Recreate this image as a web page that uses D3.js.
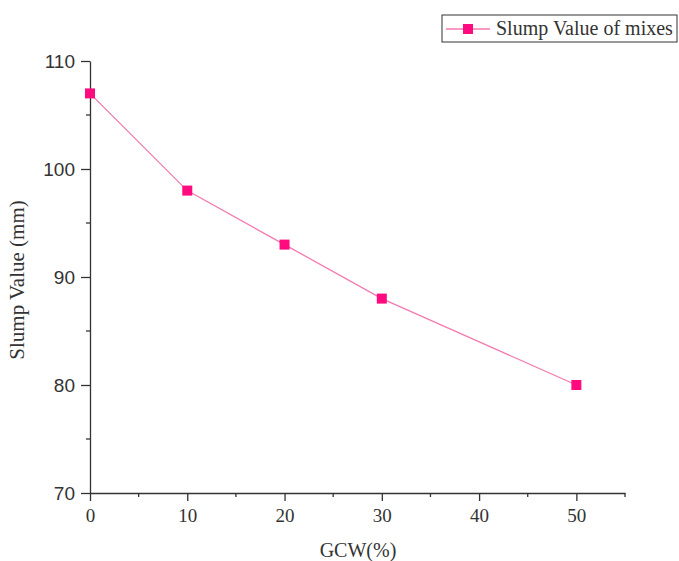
<!DOCTYPE html>
<html>
<head>
<meta charset="utf-8">
<script src="https://d3js.org/d3.v7.min.js"></script>
<style>
  body { margin: 0; background: #fff; }
  svg { display: block; }
</style>
</head>
<body>
<script>
// data
var gcw = [0, 10, 20, 30, 50];
var slump = [107, 98, 93, 88, 80];
var xTicks = [0, 10, 20, 30, 40, 50];
var yTicks = [70, 80, 90, 100, 110];
var seriesName = "Slump Value of mixes";

var W = 679, H = 561;
var mLeft = 90, mRight = 625, mTop = 61, mBottom = 493;

var svg = d3.select("body").append("svg").attr("width", W).attr("height", H);

var x = d3.scaleLinear().domain([0, 55]).range([mLeft, mRight]);
var y = d3.scaleLinear().domain([70, 110]).range([mBottom, mTop]);

var axisCol = "#333";

// x axis
var xMinor = d3.range(5, 56, 10);
var xa = svg.append("g").attr("transform", "translate(0," + mBottom + ")")
  .call(d3.axisBottom(x).tickValues(xTicks).tickSize(8).tickSizeOuter(0).tickPadding(8).tickFormat(d3.format("d")));
xa.select(".domain").attr("stroke", axisCol).attr("stroke-width", 1.3);
xa.selectAll(".tick line").attr("stroke", axisCol).attr("stroke-width", 1.3);
xa.selectAll("text").attr("font-family", "Liberation Serif").attr("font-size", 19).attr("fill", "#333");
xa.selectAll(".minor").data(xMinor).enter().append("line")
  .attr("x1", function(d){ return x(d); }).attr("x2", function(d){ return x(d); })
  .attr("y1", 0).attr("y2", 4).attr("stroke", axisCol).attr("stroke-width", 1.3);

// y axis
var yMinor = d3.range(75, 110, 10);
var ya = svg.append("g").attr("transform", "translate(" + mLeft + ",0)")
  .call(d3.axisLeft(y).tickValues(yTicks).tickSize(9).tickSizeOuter(0).tickPadding(6));
ya.select(".domain").attr("stroke", axisCol).attr("stroke-width", 1.3);
ya.selectAll(".tick line").attr("stroke", axisCol).attr("stroke-width", 1.3);
ya.selectAll("text").attr("font-family", "Liberation Sans").attr("font-size", 19).attr("fill", "#333");
ya.selectAll(".minor").data(yMinor).enter().append("line")
  .attr("y1", function(d){ return y(d); }).attr("y2", function(d){ return y(d); })
  .attr("x1", 0).attr("x2", -4).attr("stroke", axisCol).attr("stroke-width", 1.3);

// axis titles
svg.append("text").attr("x", 358).attr("y", 557).attr("text-anchor", "middle")
  .attr("font-family", "Liberation Serif").attr("font-size", 20).attr("fill", "#333").text("GCW(%)");
svg.append("text").attr("transform", "translate(24,280) rotate(-90)").attr("text-anchor", "middle")
  .attr("font-family", "Liberation Serif").attr("font-size", 21).attr("fill", "#333").text("Slump Value (mm)");

// line and markers
var pts = gcw.map(function(d, i){ return [d, slump[i]]; });
svg.append("path").datum(pts)
  .attr("d", d3.line().x(function(d){ return x(d[0]); }).y(function(d){ return y(d[1]); }))
  .attr("fill", "none").attr("stroke", "#f47ab0").attr("stroke-width", 1.3);
svg.selectAll(".pt").data(pts).enter().append("rect")
  .attr("x", function(d){ return x(d[0]) - 5; }).attr("y", function(d){ return y(d[1]) - 5; })
  .attr("width", 10).attr("height", 10).attr("fill", "#ff0a7f");

// legend
var lg = svg.append("g");
lg.append("rect").attr("x", 442).attr("y", 15).attr("width", 235).attr("height", 27)
  .attr("fill", "#fff").attr("stroke", "#333").attr("stroke-width", 1);
lg.append("line").attr("x1", 446).attr("x2", 490).attr("y1", 29).attr("y2", 29)
  .attr("stroke", "#f47ab0").attr("stroke-width", 1.3);
lg.append("rect").attr("x", 463).attr("y", 24).attr("width", 10).attr("height", 10).attr("fill", "#ff0a7f");
lg.append("text").attr("x", 496).attr("y", 35).attr("font-family", "Liberation Serif")
  .attr("font-size", 20).attr("fill", "#333").text(seriesName);
</script>
</body>
</html>
